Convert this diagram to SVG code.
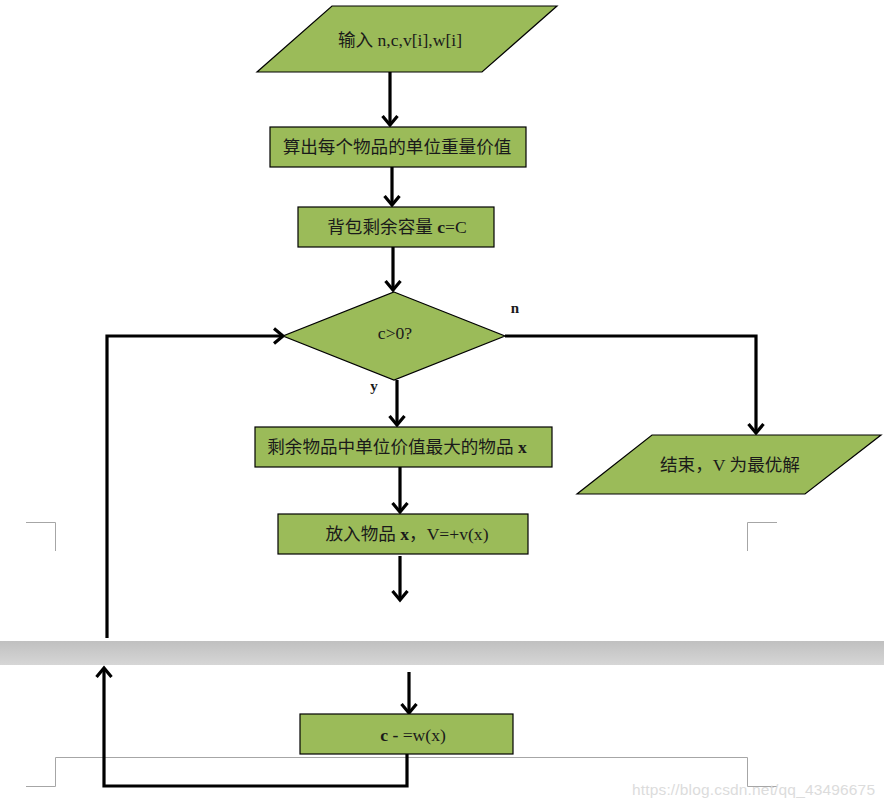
<svg xmlns="http://www.w3.org/2000/svg" width="884" height="807" viewBox="0 0 884 807">
<style>
.n{fill:#9BBB59;stroke:#000;stroke-width:1.2}
.t{font-family:"Liberation Serif","Noto Sans CJK SC",serif;font-size:17.6px;fill:#1a1a1a;text-anchor:middle}
.b{font-weight:bold}
.c{fill:none;stroke:#000;stroke-width:3.2}
.pg{fill:none;stroke:#a6a6a6;stroke-width:1}
</style>
<defs>
<marker id="ah" markerUnits="userSpaceOnUse" markerWidth="20" markerHeight="20" viewBox="-10 -10 20 20" refX="0" refY="0" orient="auto">
<path d="M-9,-7.5 L0,0 L-9,7.5" fill="none" stroke="#000" stroke-width="3.2"/>
</marker>
<linearGradient id="band" x1="0" y1="0" x2="0" y2="1">
<stop offset="0" stop-color="#c0c0c0"/>
<stop offset="1" stop-color="#d6d6d6"/>
</linearGradient>
</defs>
<rect width="884" height="807" fill="#fff"/>
<g id="page">
<rect x="0" y="641" width="884" height="24" fill="url(#band)"/>
<path class="pg" d="M26,522.5 H55.5 V551"/>
<path class="pg" d="M777,522.5 H747.5 V551"/>
<path class="pg" d="M26,786.5 H55.5 V757.5 H747.5 V786.5 H777"/>
</g>
<g id="connectors">
<path class="c" d="M390,72 V125" marker-end="url(#ah)"/>
<path class="c" d="M392,167 V205" marker-end="url(#ah)"/>
<path class="c" d="M393,247 V290" marker-end="url(#ah)"/>
<path class="c" d="M505,336 H756 V433" marker-end="url(#ah)"/>
<path class="c" d="M397,380 V425" marker-end="url(#ah)"/>
<path class="c" d="M400,467 V512" marker-end="url(#ah)"/>
<path class="c" d="M400,556 V600" marker-end="url(#ah)"/>
<path class="c" d="M107,638 V336 H283" marker-end="url(#ah)"/>
<path class="c" d="M409,672 V713" marker-end="url(#ah)"/>
<path class="c" d="M407,754 V786 H104 V668" marker-end="url(#ah)"/>
</g>
<g id="input">
<polygon class="n" points="332,6 557,6 482,72 257,72"/>
<text class="t" x="400" y="46">输入 n,c,v[i],w[i]</text>
</g>
<g id="calc">
<rect class="n" x="270" y="127" width="256" height="40"/>
<text class="t" x="397" y="153">算出每个物品的单位重量价值</text>
</g>
<g id="init">
<rect class="n" x="298" y="207" width="196" height="40"/>
<text class="t" x="397" y="233">背包剩余容量 <tspan class="b">c</tspan>=C</text>
</g>
<g id="cond">
<polygon class="n" points="394,292 505,336 394,380 283,336"/>
<text class="t" x="395" y="339">c&gt;0?</text>
<text class="t b" x="515" y="313" style="font-size:15px">n</text>
<text class="t b" x="374" y="391" style="font-size:15px">y</text>
</g>
<g id="end">
<polygon class="n" points="652,435 881,435 805,494 577,494"/>
<text class="t" x="730" y="471">结束，V 为最优解</text>
</g>
<g id="pick">
<rect class="n" x="255" y="427" width="297" height="40"/>
<text class="t" x="397" y="453">剩余物品中单位价值最大的物品 <tspan class="b">x</tspan></text>
</g>
<g id="put">
<rect class="n" x="278" y="514" width="250" height="40"/>
<text class="t" x="407" y="540">放入物品 <tspan class="b">x</tspan>，V=+v(x)</text>
</g>
<g id="sub">
<rect class="n" x="300" y="714" width="213" height="40"/>
<text class="t" x="413" y="741"><tspan class="b">c - </tspan>=w(x)</text>
</g>
<text x="632" y="795" textLength="243" style="font-family:'Liberation Sans',sans-serif;font-size:15.5px;fill:#dcdcdc">https://blog.csdn.net/qq_43496675</text>
</svg>
